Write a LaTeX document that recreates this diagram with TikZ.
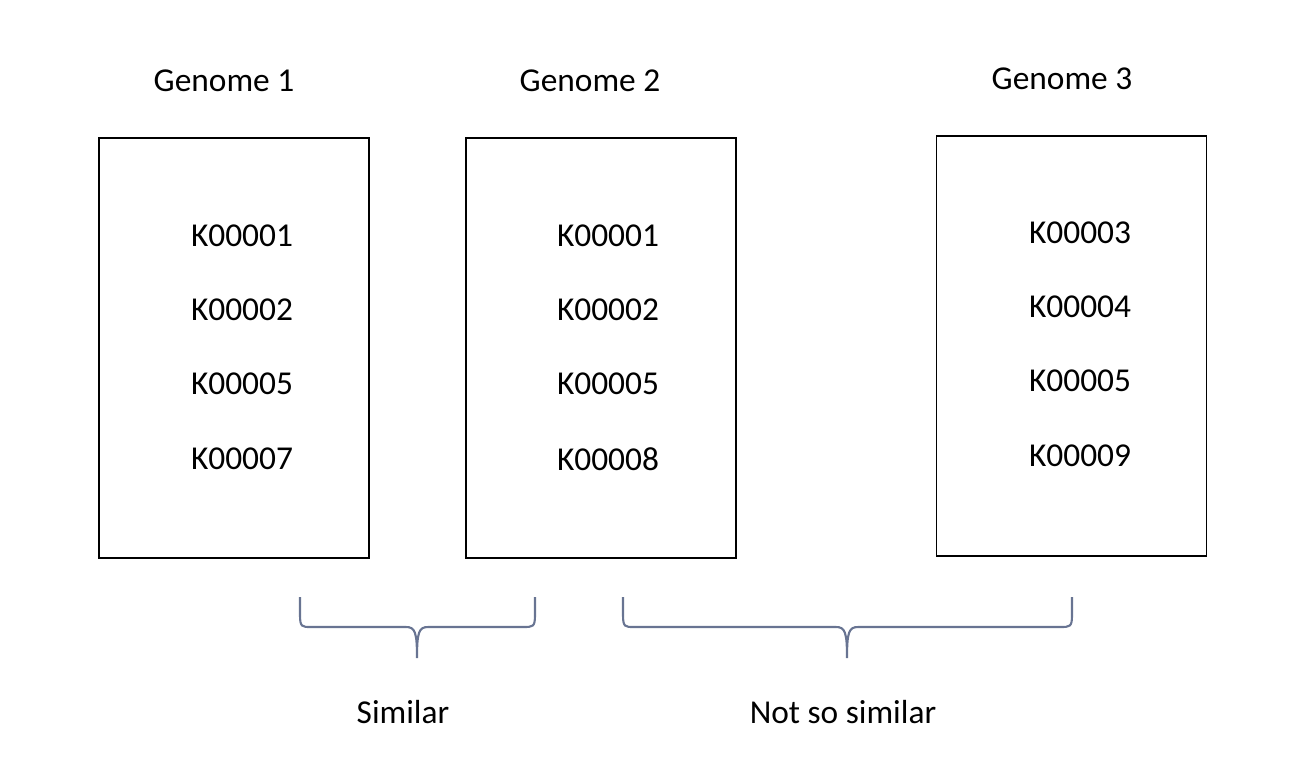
\documentclass[tikz,border=0pt]{standalone}
\usepackage{fontspec}
\setmainfont{Carlito}
\definecolor{bracegray}{RGB}{104,116,146}
\begin{document}
\begin{tikzpicture}[x=0.02cm, y=-0.02cm,
    every node/.style={font=\fontsize{19}{23}\selectfont},
    genebox/.style={draw, line width=0.8pt, minimum width=5.4cm, minimum height=8.4cm, inner sep=0pt},
    bracepath/.style={draw=bracegray, line width=1.2pt}]
  \useasboundingbox (0,0) rectangle (1294,779);

  \node (t1) at (224,81) {Genome 1};
  \node (t2) at (590,81) {Genome 2};
  \node (t3) at (1062,79) {Genome 3};

  \node[genebox] (b1) at (234,348) {};
  \node[genebox] (b2) at (601,348) {};
  \node[genebox] (b3) at (1071.5,346) {};

  \node (a1) at (242,236) {K00001};
  \node (a2) at (242,310) {K00002};
  \node (a3) at (242,384) {K00005};
  \node (a4) at (242,459) {K00007};

  \node (c1) at (608,236) {K00001};
  \node (c2) at (608,310) {K00002};
  \node (c3) at (608,384) {K00005};
  \node (c4) at (608,459) {K00008};

  \node (d1) at (1080,233) {K00003};
  \node (d2) at (1080,307) {K00004};
  \node (d3) at (1080,381) {K00005};
  \node (d4) at (1080,456) {K00009};

  % braces
  \draw[bracepath] (300,597) -- (300,615) .. controls (300,627) and (302,627) .. (311,627)
    -- (406,627) .. controls (415,627) and (417,632) .. (417,658)
    .. controls (417,632) and (419,627) .. (428,627) -- (523,627)
    .. controls (533,627) and (535,627) .. (535,615) -- (535,597);
  \draw[bracepath] (623,597) -- (623,615) .. controls (623,627) and (625,627) .. (634,627)
    -- (836,627) .. controls (845,627) and (847,632) .. (847,658)
    .. controls (847,632) and (849,627) .. (858,627) -- (1060,627)
    .. controls (1070,627) and (1072,627) .. (1072,615) -- (1072,597);

  \node (sim) at (403,712) {Similar};
  \node (nsim) at (843,712) {Not so similar};
\end{tikzpicture}
\end{document}
